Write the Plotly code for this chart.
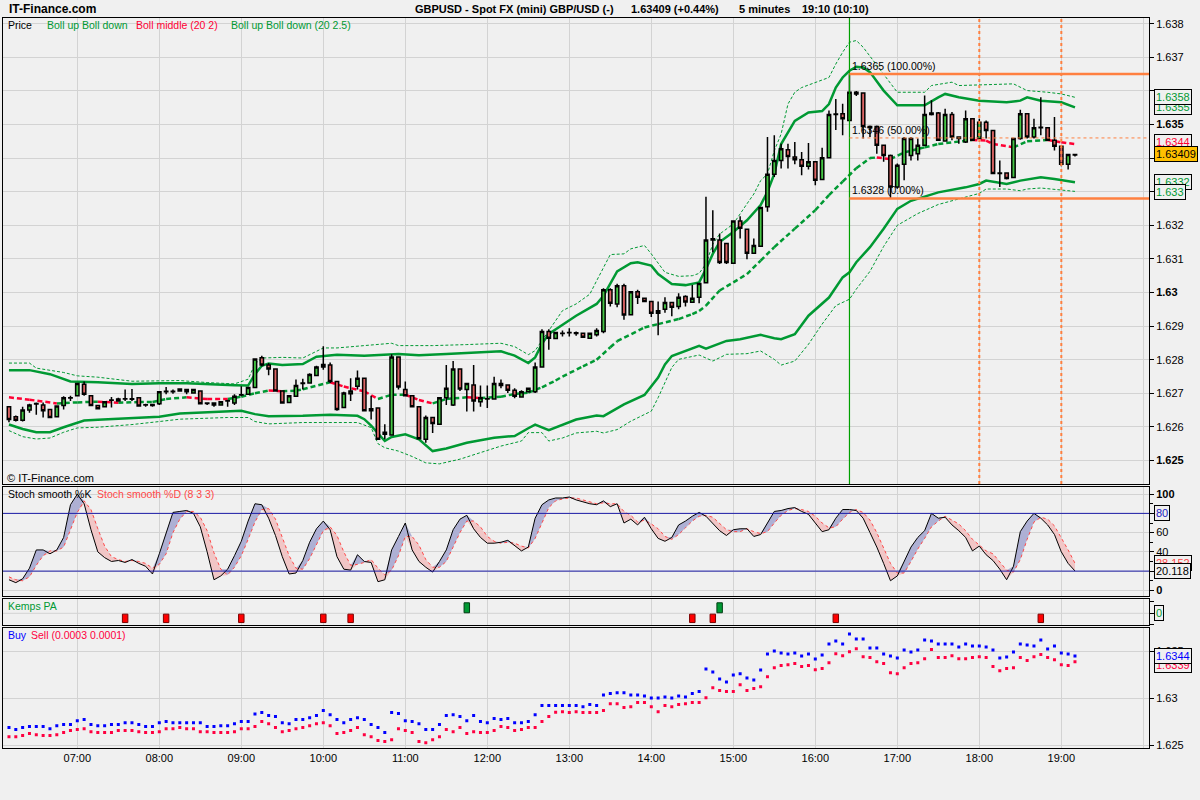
import plotly.graph_objects as go
from datetime import datetime, timedelta

# ---------------- DATA ----------------
SESSION_DAY = (2010, 5, 20)
FIRST_BAR = (6, 10)          # first 5-minute bar 06:10, last 19:10
BAR_MINUTES = 5

OPEN = [
 1.62660,1.62630,1.62620,1.62650,1.62668,1.62665,1.62652,1.62630,1.62664,1.62686,
 1.62693,1.62727,1.62693,1.62664,1.62660,1.62679,1.62677,1.62683,1.62684,1.62687,
 1.62665,1.62664,1.62669,1.62705,1.62706,1.62707,1.62711,1.62701,1.62707,1.62671,
 1.62671,1.62665,1.62677,1.62671,1.62695,1.62697,1.62717,1.62806,1.62784,1.62772,
 1.62707,1.62673,1.62691,1.62729,1.62731,1.62753,1.62778,1.62784,1.62735,1.62658,
 1.62699,1.62721,1.62745,1.62648,1.62656,1.62578,1.62576,1.62808,1.62711,1.62693,
 1.62660,1.62563,1.62628,1.62608,1.62687,1.62665,1.62772,1.62711,1.62725,1.62675,
 1.62683,1.62683,1.62729,1.62725,1.62709,1.62689,1.62705,1.62705,1.62778,1.62884,
 1.62863,1.62878,1.62880,1.62880,1.62879,1.62864,1.62874,1.62884,1.63008,1.62966,
 1.63020,1.62934,1.63002,1.62983,1.62973,1.62938,1.62950,1.62970,1.62958,1.62988,
 1.62971,1.62986,1.63029,1.63156,1.63156,1.63146,1.63087,1.63213,1.63188,1.63117,
 1.63138,1.63255,1.63352,1.63393,1.63425,1.63403,1.63395,1.63376,1.63389,1.63336,
 1.63401,1.63530,1.63532,1.63512,1.63596,1.63594,1.63494,1.63494,1.63438,1.63408,
 1.63314,1.63382,1.63408,1.63413,1.63438,1.63530,1.63534,1.63451,1.63530,1.63463,
 1.63448,1.63517,1.63458,1.63507,1.63482,1.63354,1.63356,1.63342,1.63458,1.63532,
 1.63463,1.63490,1.63490,1.63453,1.63435,1.63382,1.63411]
HIGH = [
 1.62662,1.62634,1.62660,1.62669,1.62673,1.62673,1.62654,1.62664,1.62691,1.62693,
 1.62731,1.62735,1.62695,1.62665,1.62677,1.62689,1.62687,1.62711,1.62713,1.62689,
 1.62669,1.62669,1.62707,1.62719,1.62711,1.62715,1.62713,1.62713,1.62709,1.62672,
 1.62672,1.62677,1.62681,1.62697,1.62721,1.62719,1.62804,1.62812,1.62790,1.62774,
 1.62709,1.62695,1.62741,1.62743,1.62760,1.62782,1.62840,1.62792,1.62737,1.62705,
 1.62745,1.62768,1.62747,1.62693,1.62658,1.62608,1.62816,1.62810,1.62735,1.62695,
 1.62662,1.62634,1.62630,1.62689,1.62784,1.62796,1.62774,1.62731,1.62784,1.62723,
 1.62723,1.62749,1.62741,1.62727,1.62715,1.62709,1.62717,1.62792,1.62891,1.62891,
 1.62883,1.62887,1.62894,1.62884,1.62881,1.62881,1.62894,1.63013,1.63013,1.63026,
 1.63026,1.63004,1.63008,1.62985,1.62975,1.62973,1.62986,1.62972,1.62998,1.62992,
 1.63022,1.63029,1.63285,1.63245,1.63176,1.63148,1.63215,1.63227,1.63190,1.63161,
 1.63255,1.63463,1.63468,1.63443,1.63443,1.63448,1.63418,1.63445,1.63391,1.63431,
 1.63542,1.63576,1.63562,1.63650,1.63600,1.63596,1.63497,1.63497,1.63440,1.63411,
 1.63384,1.63463,1.63463,1.63458,1.63586,1.63572,1.63537,1.63547,1.63537,1.63465,
 1.63542,1.63519,1.63517,1.63512,1.63484,1.63393,1.63358,1.63460,1.63544,1.63534,
 1.63517,1.63581,1.63492,1.63522,1.63437,1.63413,1.63413]
LOW = [
 1.62614,1.62616,1.62616,1.62642,1.62636,1.62628,1.62626,1.62628,1.62652,1.62677,
 1.62693,1.62693,1.62662,1.62652,1.62660,1.62658,1.62675,1.62677,1.62677,1.62660,
 1.62660,1.62660,1.62665,1.62697,1.62699,1.62705,1.62697,1.62701,1.62667,1.62665,
 1.62660,1.62664,1.62660,1.62665,1.62691,1.62695,1.62715,1.62780,1.62754,1.62705,
 1.62669,1.62671,1.62691,1.62711,1.62729,1.62751,1.62770,1.62731,1.62648,1.62656,
 1.62677,1.62711,1.62646,1.62622,1.62561,1.62563,1.62574,1.62711,1.62691,1.62658,
 1.62563,1.62553,1.62582,1.62606,1.62665,1.62662,1.62707,1.62646,1.62646,1.62660,
 1.62656,1.62681,1.62715,1.62701,1.62685,1.62687,1.62703,1.62701,1.62776,1.62830,
 1.62861,1.62869,1.62869,1.62871,1.62865,1.62862,1.62869,1.62879,1.62958,1.62956,
 1.62919,1.62932,1.62966,1.62971,1.62927,1.62873,1.62940,1.62929,1.62950,1.62958,
 1.62969,1.62968,1.63027,1.63120,1.63085,1.63085,1.63085,1.63161,1.63099,1.63115,
 1.63136,1.63240,1.63344,1.63369,1.63369,1.63382,1.63349,1.63366,1.63319,1.63334,
 1.63399,1.63484,1.63468,1.63510,1.63585,1.63458,1.63463,1.63413,1.63389,1.63280,
 1.63309,1.63334,1.63393,1.63393,1.63436,1.63527,1.63451,1.63449,1.63453,1.63443,
 1.63445,1.63451,1.63455,1.63458,1.63352,1.63314,1.63336,1.63340,1.63455,1.63458,
 1.63458,1.63468,1.63451,1.63423,1.63376,1.63366,1.63405]
CLOSE = [
 1.62622,1.62620,1.62650,1.62665,1.62670,1.62648,1.62628,1.62662,1.62687,1.62687,
 1.62729,1.62697,1.62664,1.62654,1.62675,1.62680,1.62683,1.62684,1.62682,1.62662,
 1.62666,1.62667,1.62705,1.62706,1.62705,1.62713,1.62705,1.62711,1.62669,1.62670,
 1.62665,1.62675,1.62678,1.62691,1.62696,1.62717,1.62802,1.62784,1.62772,1.62707,
 1.62671,1.62693,1.62723,1.62731,1.62756,1.62778,1.62786,1.62735,1.62652,1.62701,
 1.62707,1.62745,1.62648,1.62654,1.62563,1.62584,1.62808,1.62719,1.62693,1.62660,
 1.62565,1.62628,1.62610,1.62687,1.62715,1.62772,1.62713,1.62729,1.62677,1.62687,
 1.62684,1.62729,1.62723,1.62709,1.62691,1.62705,1.62715,1.62778,1.62884,1.62864,
 1.62881,1.62879,1.62881,1.62878,1.62867,1.62879,1.62887,1.63008,1.62968,1.63020,
 1.62933,1.63002,1.62986,1.62973,1.62938,1.62946,1.62970,1.62956,1.62986,1.62972,
 1.62983,1.63027,1.63156,1.63160,1.63089,1.63089,1.63213,1.63191,1.63117,1.63140,
 1.63253,1.63352,1.63393,1.63428,1.63405,1.63395,1.63376,1.63389,1.63334,1.63401,
 1.63530,1.63531,1.63517,1.63596,1.63591,1.63494,1.63490,1.63438,1.63408,1.63314,
 1.63379,1.63458,1.63458,1.63438,1.63530,1.63534,1.63453,1.63530,1.63463,1.63458,
 1.63517,1.63453,1.63507,1.63482,1.63354,1.63356,1.63339,1.63458,1.63532,1.63463,
 1.63490,1.63492,1.63453,1.63435,1.63382,1.63411,1.63409]

# Bollinger bands, read at sample bars (bar index, value)
U25_BAR = [0,3,4,8,10,13,18,22,25,29,33,35,36,37,40,43,46,48,50,56,57,62,67,72,74,76,77,78,79,
           81,83,85,86,88,90,91,93,94,96,98,100,101,102,103,104,106,108,109,110,111,112,113,114,
           115,116,118,120,121,122,123,124,125,128,130,134,135,138,139,147,149,152,154,156]
U25_VAL = [1.62790,1.62790,1.62775,1.62762,1.62752,1.62748,1.62736,1.62738,1.62738,1.62732,1.62728,
           1.62742,1.62787,1.62805,1.62807,1.62805,1.62835,1.62835,1.62839,1.62849,1.62842,1.62842,
           1.62845,1.62849,1.62839,1.62815,1.62827,1.62857,1.62887,1.62946,1.62966,1.62995,1.63035,
           1.63113,1.63115,1.63130,1.63140,1.63115,1.63060,1.63048,1.63050,1.63057,1.63085,1.63144,
           1.63174,1.63204,1.63264,1.63293,1.63333,1.63353,1.63422,1.63472,1.63561,1.63596,1.63610,
           1.63625,1.63640,1.63680,1.63715,1.63745,1.63750,1.63730,1.63651,1.63596,1.63596,1.63616,
           1.63626,1.63616,1.63621,1.63601,1.63596,1.63591,1.63581]
U2_BAR = [0,3,6,9,13,18,22,26,33,35,36,37,38,40,43,45,48,52,57,60,64,67,72,74,76,77,78,79,81,83,
          86,87,89,91,92,94,95,97,99,101,102,103,104,106,108,110,111,112,113,115,117,119,120,121,
          122,123,124,125,126,127,128,130,134,136,137,139,142,146,148,149,151,154,156]
U2_VAL = [1.62769,1.62769,1.62757,1.62735,1.62733,1.62728,1.62730,1.62730,1.62724,1.62723,1.62757,
          1.62782,1.62789,1.62784,1.62787,1.62809,1.62815,1.62812,1.62817,1.62813,1.62817,1.62820,
          1.62825,1.62812,1.62790,1.62807,1.62847,1.62877,1.62903,1.62931,1.62966,1.62990,1.63063,
          1.63087,1.63090,1.63080,1.63055,1.63025,1.63022,1.63030,1.63070,1.63115,1.63150,1.63180,
          1.63215,1.63260,1.63300,1.63353,1.63442,1.63511,1.63536,1.63540,1.63561,1.63610,1.63640,
          1.63660,1.63672,1.63670,1.63656,1.63630,1.63601,1.63557,1.63557,1.63581,1.63591,1.63581,
          1.63571,1.63566,1.63571,1.63581,1.63571,1.63566,1.63551]
MID_BAR = [0,3,7,10,13,16,19,21,23,26,29,32,34,36,38,40,42,43,47,49,52,54,56,58,60,62,64,67,69,72,
           74,76,78,80,81,84,86,88,89,93,95,98,100,101,102,104,106,108,110,112,115,118,120,122,124,
           126,127,129,131,134,136,141,143,144,147,149,152,154,156]
MID_VAL = [1.62688,1.62681,1.62670,1.62673,1.62675,1.62672,1.62674,1.62674,1.62683,1.62688,1.62683,
           1.62683,1.62690,1.62700,1.62708,1.62706,1.62708,1.62712,1.62733,1.62720,1.62706,1.62683,
           1.62696,1.62696,1.62680,1.62670,1.62683,1.62688,1.62686,1.62690,1.62698,1.62702,1.62718,
           1.62738,1.62750,1.62780,1.62800,1.62837,1.62855,1.62896,1.62906,1.62921,1.62936,1.62945,
           1.62961,1.63006,1.63030,1.63055,1.63095,1.63135,1.63190,1.63245,1.63290,1.63330,1.63370,
           1.63400,1.63402,1.63397,1.63417,1.63432,1.63442,1.63454,1.63452,1.63442,1.63432,1.63450,
           1.63454,1.63447,1.63442]
L2_BAR = [0,2,4,6,8,11,13,18,22,25,30,34,36,38,43,47,51,52,53,55,56,58,60,62,64,67,71,74,76,77,79,
          81,83,86,87,90,93,95,96,97,101,102,105,107,110,112,113,115,117,120,122,123,124,126,128,
          130,132,136,140,142,143,146,148,151,153,156]
L2_VAL = [1.62607,1.62594,1.62584,1.62584,1.62599,1.62619,1.62621,1.62626,1.62630,1.62640,1.62644,
          1.62648,1.62638,1.62632,1.62633,1.62636,1.62633,1.62623,1.62604,1.62558,1.62570,1.62578,
          1.62563,1.62528,1.62536,1.62553,1.62568,1.62573,1.62596,1.62607,1.62590,1.62607,1.62622,
          1.62634,1.62632,1.62667,1.62695,1.62747,1.62786,1.62811,1.62841,1.62833,1.62856,1.62861,
          1.62874,1.62864,1.62861,1.62876,1.62931,1.62985,1.63045,1.63060,1.63090,1.63135,1.63190,
          1.63249,1.63273,1.63298,1.63313,1.63323,1.63333,1.63323,1.63333,1.63343,1.63338,1.63328]
L25_BAR = [0,2,4,6,8,10,13,18,22,25,32,35,36,38,43,51,53,54,55,57,59,61,63,66,72,75,76,78,79,81,83,
           86,87,89,91,94,95,97,98,101,103,105,108,110,112,113,115,117,119,121,123,124,126,128,130,
           133,136,140,142,143,146,148,149,151,154,156]
L25_VAL = [1.62589,1.62571,1.62564,1.62567,1.62584,1.62597,1.62599,1.62607,1.62616,1.62623,1.62628,
           1.62628,1.62616,1.62609,1.62613,1.62613,1.62598,1.62550,1.62538,1.62528,1.62512,1.62493,
           1.62490,1.62504,1.62543,1.62558,1.62583,1.62583,1.62558,1.62567,1.62582,1.62587,1.62582,
           1.62592,1.62617,1.62647,1.62687,1.62777,1.62801,1.62814,1.62796,1.62816,1.62818,1.62826,
           1.62801,1.62784,1.62796,1.62846,1.62906,1.62961,1.62980,1.63010,1.63063,1.63137,1.63200,
           1.63235,1.63262,1.63283,1.63295,1.63308,1.63308,1.63303,1.63308,1.63311,1.63305,1.63301]

FIB_START_BAR = 123
FIB_LEVELS = [1.6365, 1.6346, 1.6328]
FIB_LABELS = ["1.6365 (100.00%)", "1.6346 (50.00%)", "1.6328 (0.00%)"]
MARK_BARS = [142, 154]

STOCH_K = [
 11,8,12,23,42,42,38,42,55,89, 100,90,63,40,34,30,31,29,32,28,
 25,17,38,60,81,82,83,80,66,40, 11,15,22,36,51,72,90,89,75,57,
 35,17,18,31,50,64,72,63,35,22, 21,37,30,29,9,11,42,56,70,42,
 30,24,19,30,42,63,74,78,64,55, 49,49,50,52,46,41,45,75,89,94,
 96,96,97,94,92,90,89,93,87,90, 70,74,68,76,64,54,51,55,68,72,
 77,81,77,70,62,57,63,64,64,56, 58,70,82,83,85,86,82,79,70,61,
 63,75,84,84,83,75,60,45,28,10, 15,30,45,55,62,80,75,76,68,62,
 55,41,46,37,31,22,11,25,61,72, 80,75,68,58,40,28,20.118]
STOCH_D = [
 14,11,10,14,26,36,41,41,45,62, 81,93,84,64,46,35,32,30,31,30,
 28,23,27,38,60,74,82,82,76,62, 39,22,16,24,36,53,71,84,85,74,
 56,36,23,22,33,48,62,66,57,40, 26,27,29,32,23,16,21,36,56,56,
 47,32,24,24,30,45,60,72,72,66, 56,51,49,50,49,46,44,54,70,86,
 93,95,96,96,94,92,90,91,90,90, 82,78,71,73,69,64,56,53,58,65,
 72,77,78,76,70,63,61,61,64,61, 59,61,70,78,83,85,84,82,77,70,
 65,66,74,81,84,81,73,60,44,28, 18,18,30,43,54,66,72,77,73,69,
 62,53,47,41,38,30,21,19,32,53, 71,76,74,67,55,42,28.152]

KEMPS_SELL_BARS = [17, 23, 34, 46, 50, 100, 103, 121, 151]
KEMPS_BUY_BARS = [67, 104]

BUY = [
 1.62688,1.62667,1.62688,1.62699,1.62699,1.62699,1.62677,1.62709,1.62720,1.62720,
 1.62762,1.62773,1.62720,1.62709,1.62709,1.62720,1.62720,1.62741,1.62741,1.62720,
 1.62699,1.62699,1.62741,1.62752,1.62741,1.62741,1.62741,1.62741,1.62741,1.62699,
 1.62699,1.62709,1.62709,1.62730,1.62752,1.62752,1.62833,1.62848,1.62816,1.62805,
 1.62741,1.62730,1.62773,1.62773,1.62794,1.62816,1.62869,1.62826,1.62773,1.62741,
 1.62773,1.62794,1.62773,1.62720,1.62688,1.62635,1.62848,1.62837,1.62762,1.62752,
 1.62730,1.62667,1.62667,1.62720,1.62816,1.62826,1.62805,1.62762,1.62816,1.62752,
 1.62741,1.62784,1.62773,1.62784,1.62741,1.62741,1.62752,1.62826,1.62922,1.62922,
 1.62922,1.62922,1.62922,1.62922,1.62911,1.62933,1.62922,1.63035,1.63050,1.63060,
 1.63060,1.63035,1.63035,1.63025,1.63004,1.63004,1.63014,1.63004,1.63025,1.63014,
 1.63050,1.63071,1.63312,1.63280,1.63206,1.63174,1.63248,1.63262,1.63216,1.63195,
 1.63301,1.63472,1.63504,1.63482,1.63472,1.63482,1.63450,1.63472,1.63418,1.63461,
 1.63578,1.63610,1.63578,1.63684,1.63631,1.63631,1.63535,1.63535,1.63472,1.63450,
 1.63429,1.63514,1.63493,1.63514,1.63621,1.63610,1.63578,1.63578,1.63578,1.63546,
 1.63578,1.63557,1.63557,1.63546,1.63514,1.63429,1.63440,1.63493,1.63578,1.63567,
 1.63557,1.63621,1.63525,1.63557,1.63482,1.63472,1.63450]
SELL = [
 1.62592,1.62592,1.62603,1.62624,1.62613,1.62603,1.62603,1.62613,1.62635,1.62656,
 1.62667,1.62677,1.62645,1.62635,1.62635,1.62635,1.62656,1.62656,1.62656,1.62645,
 1.62635,1.62635,1.62645,1.62677,1.62677,1.62688,1.62677,1.62677,1.62645,1.62645,
 1.62635,1.62635,1.62635,1.62645,1.62677,1.62677,1.62699,1.62752,1.62730,1.62688,
 1.62645,1.62656,1.62677,1.62688,1.62709,1.62730,1.62741,1.62709,1.62624,1.62635,
 1.62656,1.62688,1.62613,1.62592,1.62550,1.62539,1.62560,1.62677,1.62656,1.62635,
 1.62539,1.62528,1.62560,1.62592,1.62667,1.62645,1.62688,1.62624,1.62645,1.62635,
 1.62635,1.62656,1.62699,1.62688,1.62656,1.62667,1.62688,1.62688,1.62752,1.62805,
 1.62851,1.62858,1.62848,1.62858,1.62848,1.62848,1.62848,1.62869,1.62943,1.62943,
 1.62901,1.62911,1.62954,1.62954,1.62911,1.62858,1.62922,1.62911,1.62933,1.62943,
 1.62954,1.62954,1.63007,1.63113,1.63082,1.63071,1.63071,1.63145,1.63082,1.63103,
 1.63124,1.63230,1.63326,1.63348,1.63358,1.63369,1.63337,1.63348,1.63305,1.63316,
 1.63379,1.63475,1.63454,1.63496,1.63528,1.63443,1.63433,1.63390,1.63369,1.63273,
 1.63262,1.63326,1.63369,1.63379,1.63422,1.63518,1.63433,1.63433,1.63454,1.63422,
 1.63422,1.63433,1.63443,1.63433,1.63337,1.63294,1.63316,1.63326,1.63433,1.63401,
 1.63443,1.63465,1.63433,1.63411,1.63358,1.63348,1.63390]

PRICE_TICKS = [1.625,1.626,1.627,1.628,1.629,1.630,1.631,1.632,1.633,1.634,1.635,1.636,1.637,1.638]
PRICE_TICKTEXT = ["<b>1.625</b>","1.626","1.627","1.628","1.629","<b>1.63</b>","1.631","1.632",
                  "","","<b>1.635</b>","","1.637","1.638"]
HOUR_TICKS = list(range(7, 21))

# ---------------- helpers ----------------
def bar_time(i):
    return datetime(*SESSION_DAY, *FIRST_BAR) + timedelta(minutes=BAR_MINUTES * i)

N = len(CLOSE)
T = [bar_time(i) for i in range(N)]
XSTART = datetime(*SESSION_DAY, 6, 5, 38)
XEND = datetime(*SESSION_DAY, 20, 4, 10)
HOURS = [datetime(*SESSION_DAY, h, 0) for h in HOUR_TICKS]
HOUR_TEXT = ["%02d:00" % h if h < 20 else "" for h in HOUR_TICKS]

BG = "#f0f0f0"
GRID = "#d3d3d3"
BAND = "#009933"
MIDRED = "#ff0033"
ORANGE = "#ff8040"
FONT = "Liberation Sans, Arial, sans-serif"

def px_x(px):
    return (px - 3) / 1146.0

def px_y(py):
    return (748 - py) / 730.0

fig = go.Figure()

# ---- Bollinger bands (price panel, base axis) ----
def band(idx, vals, **line):
    fig.add_trace(go.Scatter(x=[bar_time(i) for i in idx], y=vals, mode="lines",
                             line=line, xaxis="x", yaxis="y", hoverinfo="skip"))

band(U25_BAR, U25_VAL, color=BAND, width=1, dash="3px,2px")
band(L25_BAR, L25_VAL, color=BAND, width=1, dash="3px,2px")
band(U2_BAR, U2_VAL, color=BAND, width=2.5)
band(L2_BAR, L2_VAL, color=BAND, width=2.5)

segs = {"up": ([], []), "down": ([], [])}
prev = "down"
for k in range(len(MID_BAR) - 1):
    d = MID_VAL[k + 1] - MID_VAL[k]
    key = "up" if d > 0 else ("down" if d < 0 else prev)
    prev = key
    segs[key][0].extend([bar_time(MID_BAR[k]), bar_time(MID_BAR[k + 1]), None])
    segs[key][1].extend([MID_VAL[k], MID_VAL[k + 1], None])
for key, col in (("up", BAND), ("down", MIDRED)):
    fig.add_trace(go.Scatter(x=segs[key][0], y=segs[key][1], mode="lines",
                             line=dict(color=col, width=2.5, dash="5px,3px"),
                             connectgaps=False, xaxis="x", yaxis="y", hoverinfo="skip"))

# ---- candles (overlay axis so they sit above the bands) ----
fig.add_trace(go.Candlestick(x=T, open=OPEN, high=HIGH, low=LOW, close=CLOSE,
                             increasing=dict(fillcolor="#44c544", line=dict(color="black", width=1.5)),
                             decreasing=dict(fillcolor="#dc6464", line=dict(color="black", width=1.5)),
                             whiskerwidth=0, xaxis="x", yaxis="y5", hoverinfo="skip"))

# ---- stochastic ----
k_hi = [max(a, b) for a, b in zip(STOCH_K, STOCH_D)]
k_lo = [min(a, b) for a, b in zip(STOCH_K, STOCH_D)]
fig.add_trace(go.Scatter(x=T, y=STOCH_D, mode="lines", line=dict(width=0), xaxis="x2", yaxis="y2", hoverinfo="skip"))
fig.add_trace(go.Scatter(x=T, y=k_hi, mode="lines", line=dict(width=0), fill="tonexty",
                         fillcolor="#aeb0d4", xaxis="x2", yaxis="y2", hoverinfo="skip"))
fig.add_trace(go.Scatter(x=T, y=STOCH_D, mode="lines", line=dict(width=0), xaxis="x2", yaxis="y2", hoverinfo="skip"))
fig.add_trace(go.Scatter(x=T, y=k_lo, mode="lines", line=dict(width=0), fill="tonexty",
                         fillcolor="#f1c6c6", xaxis="x2", yaxis="y2", hoverinfo="skip"))
fig.add_trace(go.Scatter(x=T, y=STOCH_D, mode="lines", line=dict(color="#ff4848", width=1, dash="dot"),
                         xaxis="x2", yaxis="y2", hoverinfo="skip"))
fig.add_trace(go.Scatter(x=T, y=STOCH_K, mode="lines", line=dict(color="black", width=1),
                         xaxis="x2", yaxis="y2", hoverinfo="skip"))

# ---- Kemps PA ----
fig.add_trace(go.Bar(x=[bar_time(i) for i in KEMPS_SELL_BARS], y=[-0.8] * len(KEMPS_SELL_BARS),
                     base=[-0.08] * len(KEMPS_SELL_BARS), width=240000,
                     marker=dict(color="#ff0000", line=dict(color="#7a0000", width=1)),
                     xaxis="x3", yaxis="y3", hoverinfo="skip"))
fig.add_trace(go.Bar(x=[bar_time(i) for i in KEMPS_BUY_BARS], y=[0.95] * len(KEMPS_BUY_BARS),
                     base=[0.05] * len(KEMPS_BUY_BARS), width=240000,
                     marker=dict(color="#009933", line=dict(color="#003d14", width=1)),
                     xaxis="x3", yaxis="y3", hoverinfo="skip"))

# ---- Buy / Sell ----
fig.add_trace(go.Scatter(x=T, y=SELL, mode="markers", marker=dict(symbol="square", size=3, color="#ff0040"),
                         xaxis="x4", yaxis="y4", hoverinfo="skip"))
fig.add_trace(go.Scatter(x=T, y=BUY, mode="markers", marker=dict(symbol="square", size=3, color="#0000ff"),
                         xaxis="x4", yaxis="y4", hoverinfo="skip"))

# ---------------- layout ----------------
xcommon = dict(type="date", range=[XSTART, XEND], tickmode="array", tickvals=HOURS, ticktext=HOUR_TEXT,
               showgrid=True, gridcolor=GRID, gridwidth=1, showline=True, linecolor="black",
               linewidth=1, mirror=True, zeroline=False, ticks="", fixedrange=True)
ycommon = dict(side="right", showline=True, linecolor="black", linewidth=1, mirror=True,
               ticks="outside", ticklen=4, tickcolor="black", zeroline=False, fixedrange=True,
               showgrid=True, gridcolor=GRID, gridwidth=1, tickfont=dict(size=11, color="black"),
               automargin=False)
PRICE_RANGE = [1.62430, 1.63817]

fig.update_layout(
    width=1200, height=800, margin=dict(l=3, r=51, t=18, b=52, autoexpand=False),
    paper_bgcolor=BG, plot_bgcolor=BG, showlegend=False, barmode="overlay",
    font=dict(family=FONT, size=11, color="black"),
    xaxis=dict(xcommon, anchor="y", showticklabels=False, rangeslider=dict(visible=False)),
    xaxis2=dict(xcommon, anchor="y2", matches="x", showticklabels=False),
    xaxis3=dict(xcommon, anchor="y3", matches="x", showticklabels=False),
    xaxis4=dict(xcommon, anchor="y4", matches="x", showticklabels=True,
                tickfont=dict(size=11, color="black")),
    yaxis=dict(ycommon, domain=[0.3616, 1.0], range=PRICE_RANGE, tickmode="array",
               tickvals=PRICE_TICKS, ticktext=PRICE_TICKTEXT, anchor="x"),
    yaxis5=dict(overlaying="y", range=PRICE_RANGE, visible=False, fixedrange=True, anchor="x", side="right"),
    yaxis2=dict(ycommon, domain=[0.2082, 0.3579], range=[-5.9, 107.7], tickmode="array",
                tickvals=[0, 20, 40, 60, 80, 100],
                ticktext=["<b>0</b>", "", "40", "60", "", "<b>100</b>"],
                minor=dict(ticks="outside", ticklen=3, dtick=10, tickcolor="black", showgrid=False),
                anchor="x2"),
    yaxis3=dict(ycommon, domain=[0.1681, 0.2041], range=[-1.14, 1.36], tickmode="array",
                tickvals=[-1.1, 0, 1.1], ticktext=["", "", ""], showgrid=False, anchor="x3"),
    yaxis4=dict(ycommon, domain=[0.0, 0.1640], range=[1.62471, 1.63745], tickmode="array",
                tickvals=[1.625, 1.63, 1.635], ticktext=["1.625", "1.63", "1.635"], anchor="x4"),
)

shapes = []
# Kemps zero line
shapes.append(dict(type="line", xref="x3 domain", yref="y3", x0=0, x1=1, y0=0, y1=0,
                   line=dict(color=GRID, width=1), layer="below"))
# stochastic 80 / 20 lines
for lvl in (80, 20):
    shapes.append(dict(type="line", xref="x2 domain", yref="y2", x0=0, x1=1, y0=lvl, y1=lvl,
                       line=dict(color="#1c1ca8", width=1)))
# vertical markers
shapes.append(dict(type="line", xref="x", yref="y domain", x0=bar_time(FIB_START_BAR), x1=bar_time(FIB_START_BAR),
                   y0=0, y1=1, line=dict(color="#00a000", width=1.2)))
for b in MARK_BARS:
    shapes.append(dict(type="line", xref="x", yref="y domain", x0=bar_time(b), x1=bar_time(b),
                       y0=0, y1=1, line=dict(color=ORANGE, width=2, dash="3px,3px")))
# fibonacci levels
for lvl, txt in zip(FIB_LEVELS, FIB_LABELS):
    mid = "50" in txt
    shapes.append(dict(type="line", xref="x", yref="y", x0=bar_time(FIB_START_BAR), x1=XEND, y0=lvl, y1=lvl,
                       line=dict(color=ORANGE, width=1 if mid else 2.5, dash="3px,3px" if mid else "solid")))
fig.update_layout(shapes=shapes)

ann = []
def label(px, py, text, size=11, color="black", anchor="left"):
    ann.append(dict(xref="paper", yref="paper", x=px_x(px), y=px_y(py), text=text, showarrow=False,
                    xanchor=anchor, yanchor="middle", font=dict(size=size, color=color, family=FONT)))

label(7, 9, "<b>IT-Finance.com</b>", size=12)
label(413, 9, "<b>GBPUSD - Spot FX (mini) GBP/USD (-)</b>", size=11)
label(629, 9, "<b>1.63409 (+0.44%)</b>", size=11)
label(737, 9, "<b>5 minutes</b>", size=11)
label(800, 9, "<b>19:10 (10:10)</b>", size=11)
label(6, 25, "Price", size=10.5)
label(45, 25, "Boll up Boll down", size=10.5, color=BAND)
label(134, 25, "Boll middle (20 2)", size=10.5, color=MIDRED)
label(229, 25, "Boll up Boll down (20 2.5)", size=10.5, color=BAND)
label(5, 478, "\u00a9 IT-Finance.com")
label(6, 494, "Stoch smooth %K", size=10.5)
label(95, 494, "Stoch smooth %D (8 3 3)", size=10.5, color="#ff4848")
label(6, 606, "Kemps PA", size=10.5, color="#009933")
label(6, 635, "Buy", size=10.5, color="#0000ff")
label(29, 635, "Sell (0.0003 0.0001)", size=10.5, color="#ff0040")

for lvl, txt in zip(FIB_LEVELS, FIB_LABELS):
    ann.append(dict(xref="x", yref="y", x=bar_time(FIB_START_BAR), y=lvl, text=txt, showarrow=False,
                    xanchor="left", yanchor="bottom", xshift=1, font=dict(size=10.5, color="black")))

def box(yref, val, text, color, bg=BG, yshift=0):
    ann.append(dict(xref="paper", yref=yref, x=1, y=val, text=text, showarrow=False, xanchor="left",
                    yanchor="middle", xshift=5, yshift=yshift, bordercolor="black", borderwidth=1,
                    borderpad=1, bgcolor=bg, font=dict(size=11, color=color)))

box("y", U2_VAL[-1], "1.6355", BAND)
box("y", U25_VAL[-1], "1.6358", BAND)
box("y", MID_VAL[-1], "1.6344", MIDRED, yshift=2)
box("y", CLOSE[-1], "1.63409", "black", bg="#ffc000", yshift=1)
box("y", L2_VAL[-1], "1.6332", BAND)
box("y", L25_VAL[-1], "1.633", BAND, yshift=-1)
box("y2", 80, "80", "#2020c0")
box("y2", STOCH_D[-1], "28.152", "#ff4848")
box("y2", STOCH_K[-1], "20.118", "black")
box("y3", 0, "0", "#009933")
box("y4", SELL[-1], "1.6339", "#ff0040", yshift=-3)
box("y4", BUY[-1], "1.6344", "#0000ff")
fig.update_layout(annotations=ann)

fig.write_html("out.html", config={"displayModeBar": False},
               post_script="document.body.style.margin='0';document.body.style.padding='0';")
